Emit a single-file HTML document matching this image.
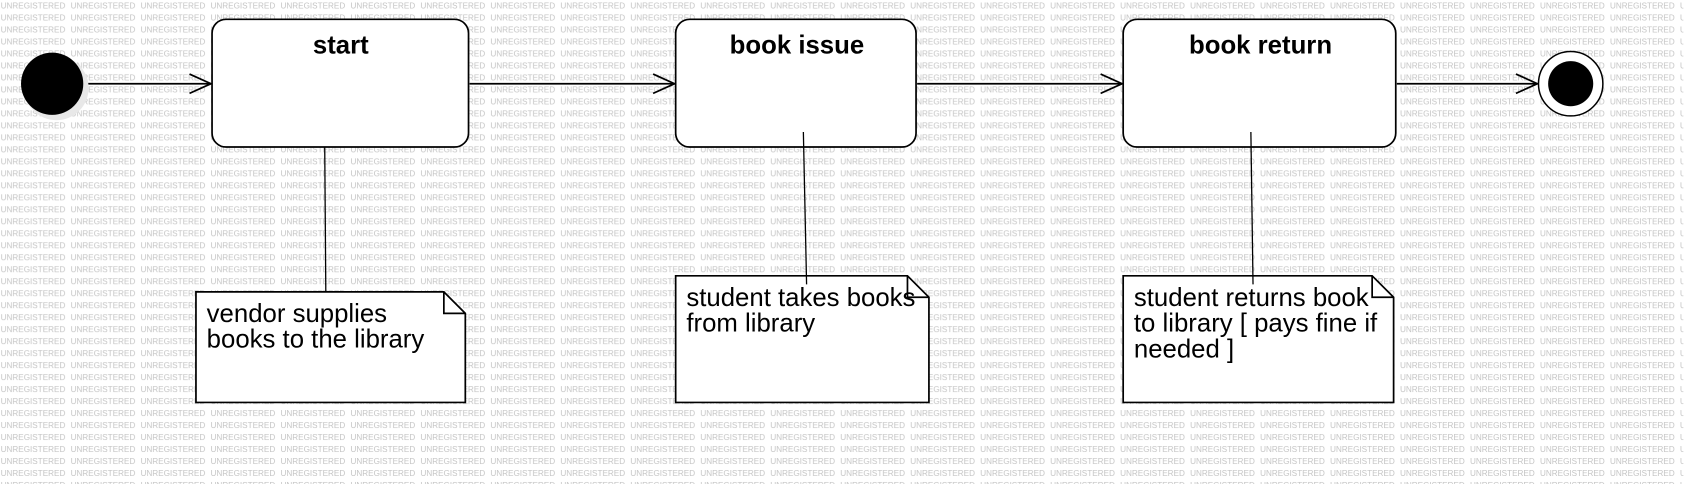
<!DOCTYPE html>
<html><head><meta charset="utf-8"><style>
html,body{margin:0;padding:0;background:#fff;}
svg{display:block;}
</style></head><body>
<svg width="1684" height="484" viewBox="0 0 1568 451" xmlns="http://www.w3.org/2000/svg" font-family="Liberation Sans, sans-serif">
<defs>
<pattern id="wm" x="0" y="0" width="65.2" height="11.17" patternUnits="userSpaceOnUse">
<text x="0" y="8" font-size="7.6" fill="#c4c4c4" font-family="Liberation Sans, sans-serif">UNREGISTERED</text>
</pattern>
</defs>
<rect width="1568" height="451" fill="#fff"/>
<rect width="1568" height="451" fill="url(#wm)"/>
<g stroke="#000" stroke-width="1.6" fill="none">
<line x1="78" y1="78" x2="196" y2="78"/><polyline points="176,69 196,78 176,87"/>
<line x1="437" y1="78" x2="628" y2="78"/><polyline points="608,69 628,78 608,87"/>
<line x1="854" y1="78" x2="1045" y2="78"/><polyline points="1025,69 1045,78 1025,87"/>
<line x1="1301" y1="78" x2="1432" y2="78"/><polyline points="1412,69 1432,78 1412,87"/>
</g>
<circle cx="52" cy="82" r="30" fill="#e8e8e8"/>
<circle cx="48" cy="78" r="29" fill="#000"/>
<circle cx="1463" cy="78" r="30" fill="#fff" stroke="#000" stroke-width="1.4"/>
<circle cx="1463" cy="78" r="21" fill="#000"/>
<g fill="#fff" stroke="#000" stroke-width="1.6">
<rect x="197" y="18" width="239" height="119" rx="13"/>
<rect x="629" y="18" width="224" height="119" rx="13"/>
<rect x="1046" y="18" width="254" height="119" rx="13"/>
<path d="M182,272 H413 L433,292 V375 H182 Z"/>
<path d="M629,257 H845 L865,277 V375 H629 Z"/>
<path d="M1046,257 H1278 L1298,277 V375 H1046 Z"/>
</g>
<g stroke="#000" stroke-width="1.6" fill="none">
<polyline points="413,272 413,292 433,292"/>
<polyline points="845,257 845,277 865,277"/>
<polyline points="1278,257 1278,277 1298,277"/>
<line x1="302" y1="137" x2="303" y2="272" stroke-width="1.2"/>
<line x1="748" y1="123" x2="751" y2="265" stroke-width="1.2"/>
<line x1="1165" y1="123" x2="1167" y2="265" stroke-width="1.2"/>
</g>
<g font-weight="bold" font-size="24" text-anchor="middle" fill="#000">
<text x="317" y="50">start</text>
<text x="742" y="50">book issue</text>
<text x="1174" y="50">book return</text>
</g>
<g font-size="24" fill="#000">
<text x="192" y="300">vendor supplies</text>
<text x="192" y="324">books to the library</text>
<text x="639" y="285">student takes books</text>
<text x="639" y="309">from library</text>
<text x="1056" y="285">student returns book</text>
<text x="1056" y="309">to library [ pays fine if</text>
<text x="1056" y="333">needed ]</text>
</g>
</svg>
</body></html>
